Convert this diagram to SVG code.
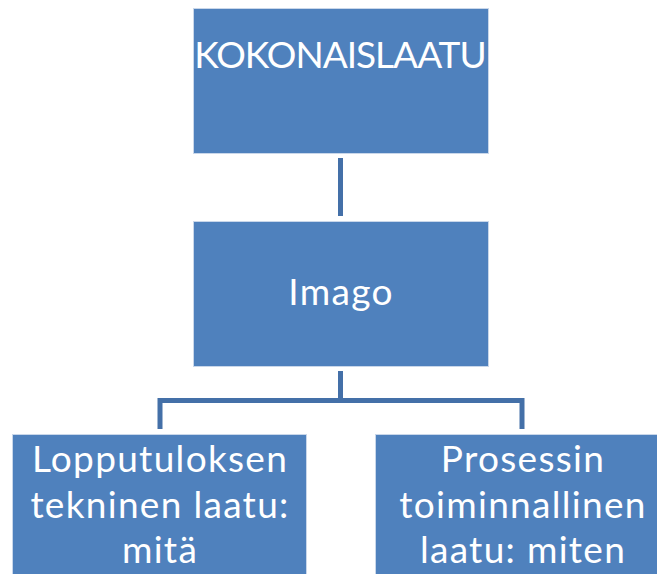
<svg xmlns="http://www.w3.org/2000/svg" width="657" height="574" viewBox="0 0 657 574">
<style>
.box{fill:#4F81BD;stroke:#C9D7EA;stroke-width:1}
.lbl{font-family:Lato,"Open Sans","Liberation Sans",sans-serif;font-size:37px;fill:#FFFFFF;text-anchor:middle;letter-spacing:1.3px}
.caps{letter-spacing:-1px}
.con{fill:none;stroke:#4470A8;stroke-width:5;stroke-linejoin:miter}
</style>
<rect width="657" height="574" fill="#FFFFFF"/>
<g id="connectors">
<line class="con" x1="340.5" y1="158" x2="340.5" y2="216"/>
<line class="con" x1="340.5" y1="371" x2="340.5" y2="400.5"/>
<polyline class="con" points="160,429 160,400.5 522,400.5 522,429"/>
</g>
<g id="kokonaislaatu">
<rect class="box" x="193.5" y="8.5" width="295" height="145"/>
<text class="lbl caps" x="340" y="68">KOKONAISLAATU</text>
</g>
<g id="imago">
<rect class="box" x="193.5" y="221.5" width="295" height="145"/>
<text class="lbl" x="341" y="305">Imago</text>
</g>
<g id="lopputulos">
<rect class="box" x="12.5" y="434.5" width="294" height="150"/>
<text class="lbl"><tspan x="160" y="472">Lopputuloksen</tspan><tspan x="160" y="518">tekninen laatu:</tspan><tspan x="160" y="563">mitä</tspan></text>
</g>
<g id="prosessi">
<rect class="box" x="375.5" y="434.5" width="295" height="150"/>
<text class="lbl"><tspan x="523" y="472">Prosessin</tspan><tspan x="523" y="518">toiminnallinen</tspan><tspan x="523" y="563">laatu: miten</tspan></text>
</g>
</svg>
